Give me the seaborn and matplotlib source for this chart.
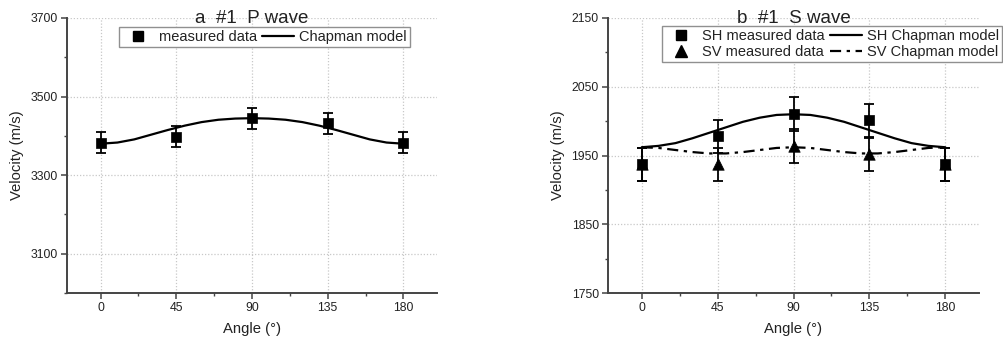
import numpy as np
import pandas as pd
import matplotlib
matplotlib.use("Agg")
import matplotlib.pyplot as plt
import seaborn as sns
from matplotlib.lines import Line2D
from matplotlib.ticker import MultipleLocator, FixedLocator

# ---------------- data ----------------
angles = [0, 45, 90, 135, 180]
p_measured = [3383, 3398, 3445, 3432, 3383]
p_err = [27, 27, 27, 27, 27]

sh_measured = [1937, 1978, 2010, 2001, 1937]
sh_err = [24, 24, 25, 24, 24]
sv_measured = [1937, 1937, 1964, 1952, 1937]
sv_err = [24, 24, 25, 24, 24]

model_angles = [0, 10, 20, 30, 40, 50, 60, 70, 80, 90,
                100, 110, 120, 130, 140, 150, 160, 170, 180]
p_model = [3380, 3383, 3391, 3403, 3415, 3426, 3435, 3441, 3444, 3445,
           3444, 3441, 3435, 3426, 3415, 3403, 3391, 3383, 3380]
sh_model = [1962, 1964, 1968, 1975, 1983, 1991, 1999, 2005, 2009, 2010,
            2009, 2005, 1999, 1991, 1983, 1975, 1968, 1964, 1962]
sv_model = [1962, 1961, 1958, 1955, 1953, 1953, 1955, 1958, 1961, 1962,
            1961, 1958, 1955, 1953, 1953, 1955, 1958, 1961, 1962]

x_ticks = [0, 45, 90, 135, 180]
p_yticks = [3100, 3300, 3500, 3700]
s_yticks = [1750, 1850, 1950, 2050, 2150]

titles = ["a  #1  P wave", "b  #1  S wave"]
xlabel = "Angle (\u00b0)"
ylabel = "Velocity (m/s)"

# ---------------- style ----------------
sns.set_theme(style="white")
plt.rcParams["font.family"] = ["Liberation Sans", "DejaVu Sans"]
TXT = "#222222"
SPINE = "#444444"
GRID = "#c8c8c8"

fig = plt.figure(figsize=(10.04, 3.47), dpi=100)
ax1 = fig.add_axes([67 / 1004, 1 - 293 / 347, 370 / 1004, 275 / 347])
ax2 = fig.add_axes([608 / 1004, 1 - 293 / 347, 371 / 1004, 275 / 347])

def style_axes(ax, yticks, ylim, yminor):
    ax.set_xlim(-20, 200)
    ax.set_ylim(*ylim)
    ax.xaxis.set_major_locator(FixedLocator(x_ticks))
    ax.xaxis.set_minor_locator(FixedLocator([22.5, 67.5, 112.5, 157.5]))
    ax.yaxis.set_major_locator(FixedLocator(yticks))
    ax.yaxis.set_minor_locator(MultipleLocator(yminor))
    for s in ["top", "right"]:
        ax.spines[s].set_visible(False)
    for s in ["left", "bottom"]:
        ax.spines[s].set_color(SPINE)
        ax.spines[s].set_linewidth(1.4)
    ax.tick_params(which="major", direction="out", length=4, width=1.1,
                   color=SPINE, labelsize=8.8, labelcolor=TXT, pad=2.6,
                   bottom=True, left=True)
    ax.tick_params(which="minor", direction="out", length=2.5, width=1.0,
                   color=SPINE, bottom=True, left=True)
    ax.grid(True, which="major", linestyle=(0, (1, 1.5)), color=GRID, linewidth=0.9)
    ax.set_axisbelow(True)
    ax.set_xlabel(xlabel, fontsize=10.7, color=TXT, labelpad=6)
    ax.set_ylabel(ylabel, fontsize=10.7, color=TXT, labelpad=5)

# ---------------- panel a ----------------
style_axes(ax1, p_yticks, (3000, 3700), 100)
sns.lineplot(x=model_angles, y=p_model, ax=ax1, color="black", linewidth=1.6,
             legend=False, zorder=3)
ax1.errorbar(angles, p_measured, yerr=p_err, fmt="none", ecolor="black",
             elinewidth=1.3, capsize=3.4, capthick=1.3, zorder=4)
sns.scatterplot(x=angles, y=p_measured, ax=ax1, marker="s", s=56,
                color="black", edgecolor="black", linewidth=0.5,
                legend=False, zorder=5)
ax1.set_title(titles[0], fontsize=13.5, color=TXT, y=0.982, pad=0)

h1 = [Line2D([], [], color="black", marker="s", markersize=7, linestyle="none"),
      Line2D([], [], color="black", linewidth=1.6)]
leg1 = ax1.legend(h1, ["measured data", "Chapman model"], ncol=2,
                  loc="upper right", bbox_to_anchor=(0.927, 0.966),
                  fontsize=10.5, frameon=True, fancybox=False, framealpha=1,
                  edgecolor="#909090", handlelength=2.2, handletextpad=0.35,
                  columnspacing=0.35, borderpad=0.2, borderaxespad=0)
leg1.get_frame().set_linewidth(1.0)
for t in leg1.get_texts():
    t.set_color(TXT)

# ---------------- panel b ----------------
style_axes(ax2, s_yticks, (1750, 2150), 50)
sv_dash = (0, (5, 2.5, 1.5, 2.5))
sns.lineplot(x=model_angles, y=sh_model, ax=ax2, color="black", linewidth=1.6,
             legend=False, zorder=3)
sns.lineplot(x=model_angles, y=sv_model, ax=ax2, color="black", linewidth=1.6,
             linestyle=sv_dash, legend=False, zorder=3)
ax2.errorbar(angles, sh_measured, yerr=sh_err, fmt="none", ecolor="black",
             elinewidth=1.3, capsize=3.4, capthick=1.3, zorder=4)
ax2.errorbar(angles, sv_measured, yerr=sv_err, fmt="none", ecolor="black",
             elinewidth=1.3, capsize=3.4, capthick=1.3, zorder=4)
sns.scatterplot(x=angles, y=sh_measured, ax=ax2, marker="s", s=56,
                color="black", edgecolor="black", linewidth=0.5,
                legend=False, zorder=5)
sns.scatterplot(x=angles, y=sv_measured, ax=ax2, marker="^", s=68,
                color="black", edgecolor="black", linewidth=0.5,
                legend=False, zorder=5)
ax2.set_title(titles[1], fontsize=13.5, color=TXT, y=0.982, pad=0)

h2 = [Line2D([], [], color="black", marker="s", markersize=7, linestyle="none"),
      Line2D([], [], color="black", marker="^", markersize=8, linestyle="none"),
      Line2D([], [], color="black", linewidth=1.6),
      Line2D([], [], color="black", linewidth=1.6, linestyle=sv_dash)]
leg2 = ax2.legend(h2, ["SH measured data", "SV measured data",
                       "SH Chapman model", "SV Chapman model"], ncol=2,
                  loc="upper right", bbox_to_anchor=(1.062, 0.97),
                  fontsize=10.5, frameon=True, fancybox=False, framealpha=1,
                  edgecolor="#909090", handlelength=2.2, handletextpad=0.35,
                  columnspacing=0.35, borderpad=0.2, labelspacing=0.15,
                  borderaxespad=0)
leg2.get_frame().set_linewidth(1.0)
for t in leg2.get_texts():
    t.set_color(TXT)

fig.savefig("out.png", dpi=100, facecolor="white")
